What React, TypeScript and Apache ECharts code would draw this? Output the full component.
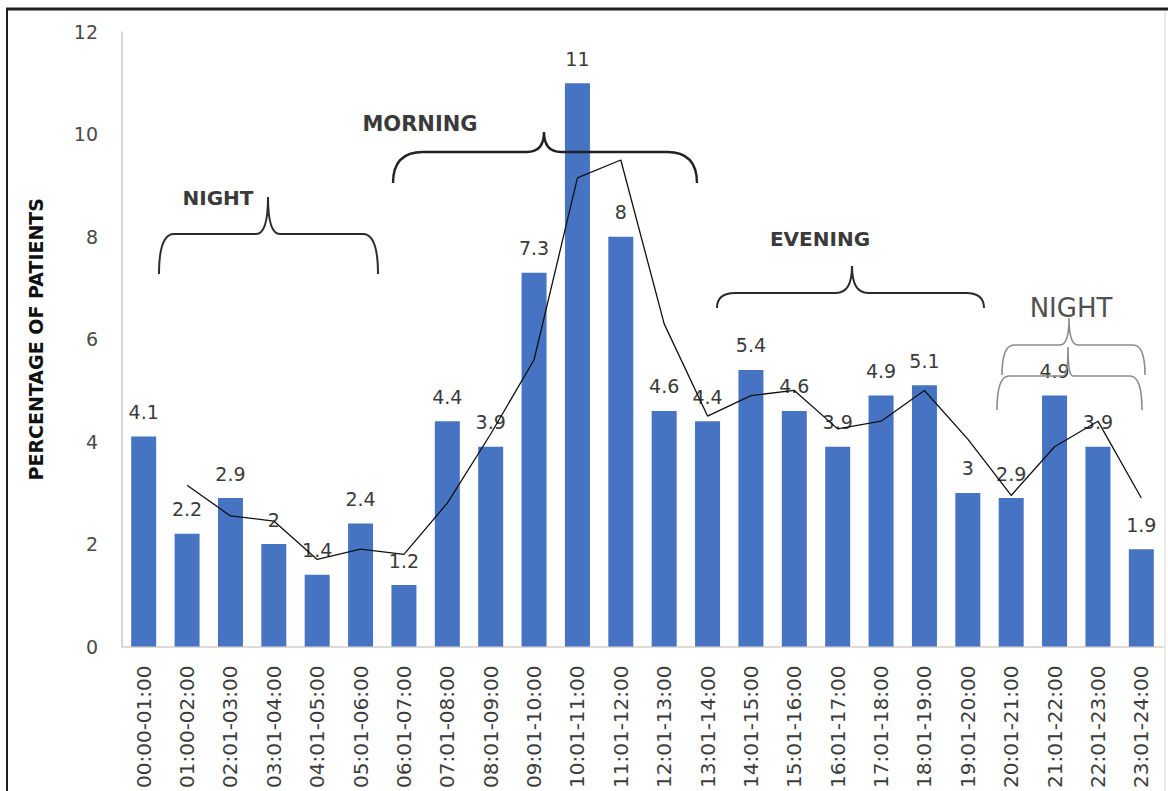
import React, { useEffect, useRef } from "react";
import * as echarts from "echarts";

// Hour-of-day slots
const categories = [
  "00:00-01:00", "01:00-02:00", "02:01-03:00", "03:01-04:00", "04:01-05:00",
  "05:01-06:00", "06:01-07:00", "07:01-08:00", "08:01-09:00", "09:01-10:00",
  "10:01-11:00", "11:01-12:00", "12:01-13:00", "13:01-14:00", "14:01-15:00",
  "15:01-16:00", "16:01-17:00", "17:01-18:00", "18:01-19:00", "19:01-20:00",
  "20:01-21:00", "21:01-22:00", "22:01-23:00", "23:01-24:00",
];

// Percentage of patients per slot
const percentages = [
  4.1, 2.2, 2.9, 2, 1.4, 2.4, 1.2, 4.4, 3.9, 7.3, 11, 8,
  4.6, 4.4, 5.4, 4.6, 3.9, 4.9, 5.1, 3, 2.9, 4.9, 3.9, 1.9,
];

// Two-period moving average trendline (starts at the second slot)
const trend = [
  null, 3.15, 2.55, 2.45, 1.7, 1.9, 1.8, 2.8, 4.15, 5.6, 9.15, 9.5,
  6.3, 4.5, 4.9, 5.0, 4.25, 4.4, 5.0, 4.05, 2.95, 3.9, 4.4, 2.9,
];

const yMin = 0;
const yMax = 12;
const yStep = 2;

const FONT = "DejaVu Sans";

type Brace = {
  name: string;
  x1: number;
  x2: number;
  xTip: number;
  yEnd: number;
  yBar: number;
  yTip: number;
  r: number;
  tw: number;
  color: string;
  width: number;
};

// Curly-brace period markers drawn over the plot
const braces: Brace[] = [
  { name: "braceNightA", x1: 159, x2: 378, xTip: 268, yEnd: 274, yBar: 234, yTip: 197, r: 15, tw: 12, color: "#2b2b2b", width: 2 },
  { name: "braceMorning", x1: 393, x2: 697, xTip: 544, yEnd: 183, yBar: 152, yTip: 132, r: 30, tw: 17, color: "#222222", width: 2.4 },
  { name: "braceEvening", x1: 717, x2: 984, xTip: 852, yEnd: 308, yBar: 293, yTip: 266, r: 18, tw: 16, color: "#2b2b2b", width: 2 },
  { name: "braceNightB1", x1: 1002, x2: 1145, xTip: 1069, yEnd: 375, yBar: 345, yTip: 318, r: 12, tw: 9, color: "#8a8a8a", width: 1.6 },
  { name: "braceNightB2", x1: 997, x2: 1142, xTip: 1068, yEnd: 410, yBar: 376, yTip: 347, r: 12, tw: 5, color: "#8a8a8a", width: 1.6 },
];

const periodLabels = [
  { text: "NIGHT", x: 218, y: 198, size: 20, color: "#3a3a3a", weight: "bold" },
  { text: "MORNING", x: 420, y: 124, size: 21, color: "#3a3a3a", weight: "bold" },
  { text: "EVENING", x: 820, y: 239, size: 20, color: "#3a3a3a", weight: "bold" },
  { text: "NIGHT", x: 1071, y: 308, size: 26, color: "#505050", weight: "normal" },
];

function bracePath(b: Brace): string {
  return (
    `M${b.x1},${b.yEnd} Q${b.x1},${b.yBar} ${b.x1 + b.r},${b.yBar} ` +
    `L${b.xTip - b.tw},${b.yBar} Q${b.xTip},${b.yBar} ${b.xTip},${b.yTip} ` +
    `Q${b.xTip},${b.yBar} ${b.xTip + b.tw},${b.yBar} ` +
    `L${b.x2 - b.r},${b.yBar} Q${b.x2},${b.yBar} ${b.x2},${b.yEnd}`
  );
}

export default function App() {
  const ref = useRef<HTMLDivElement>(null);

  useEffect(() => {
    if (!ref.current) return;
    braces.forEach((b) => {
      echarts.graphic.registerShape(b.name, echarts.graphic.extendPath(bracePath(b), {}));
    });
    const chart = echarts.init(ref.current, null, { renderer: "svg" });

    const graphic: any[] = [
      // frame
      { type: "line", shape: { x1: 6, y1: 9, x2: 1168, y2: 9 }, style: { stroke: "#1e1e1e", lineWidth: 3 }, silent: true },
      { type: "line", shape: { x1: 7, y1: 8, x2: 7, y2: 791 }, style: { stroke: "#1e1e1e", lineWidth: 2 }, silent: true },
      { type: "line", shape: { x1: 1165, y1: 11, x2: 1165, y2: 791 }, style: { stroke: "#d6d6d6", lineWidth: 1 }, silent: true },
    ];
    braces.forEach((b) => {
      graphic.push({
        type: b.name,
        z: 100,
        silent: true,
        style: { fill: "none", stroke: b.color, lineWidth: b.width },
      });
    });
    periodLabels.forEach((p) => {
      graphic.push({
        type: "text",
        x: p.x,
        y: p.y,
        z: 100,
        silent: true,
        style: {
          text: p.text,
          fill: p.color,
          font: `${p.weight} ${p.size}px "${FONT}"`,
          align: "center",
          verticalAlign: "middle",
        },
      });
    });

    chart.setOption({
      animation: false,
      backgroundColor: "#ffffff",
      textStyle: { fontFamily: FONT },
      grid: { left: 122, right: 5, top: 32, bottom: 143, containLabel: false },
      xAxis: {
        type: "category",
        data: categories,
        boundaryGap: true,
        axisLine: { show: true, lineStyle: { color: "#d8ccc6", width: 1.5 } },
        axisTick: { show: false },
        axisLabel: {
          rotate: 90,
          interval: 0,
          margin: 19,
          fontSize: 20,
          color: "#3c3c3c",
          fontFamily: FONT,
        },
        splitLine: { show: false },
      },
      yAxis: {
        type: "value",
        min: yMin,
        max: yMax,
        interval: yStep,
        name: "PERCENTAGE OF PATIENTS",
        nameLocation: "middle",
        nameRotate: 90,
        nameGap: 77,
        nameTextStyle: { fontSize: 19, fontWeight: "bold", color: "#111111", fontFamily: FONT },
        axisLine: { show: true, lineStyle: { color: "#c8c8c8", width: 1.5 } },
        axisTick: { show: false },
        axisLabel: { margin: 24, fontSize: 19, color: "#4a4a4a", fontFamily: FONT },
        splitLine: { show: false },
      },
      series: [
        {
          type: "bar",
          data: percentages,
          barWidth: 25,
          itemStyle: { color: "#4674c3" },
          label: {
            show: true,
            position: "top",
            distance: 15,
            fontSize: 19,
            color: "#3a3a3a",
            fontFamily: FONT,
          },
          z: 2,
        },
        {
          type: "line",
          data: trend,
          showSymbol: false,
          symbol: "none",
          connectNulls: false,
          lineStyle: { color: "#111111", width: 1.3 },
          z: 5,
        },
      ],
      graphic,
    });

    return () => chart.dispose();
  }, []);

  return (
    <div
      ref={ref}
      style={{ position: "absolute", left: 0, top: 0, width: 1168, height: 791, background: "#fff" }}
    />
  );
}
